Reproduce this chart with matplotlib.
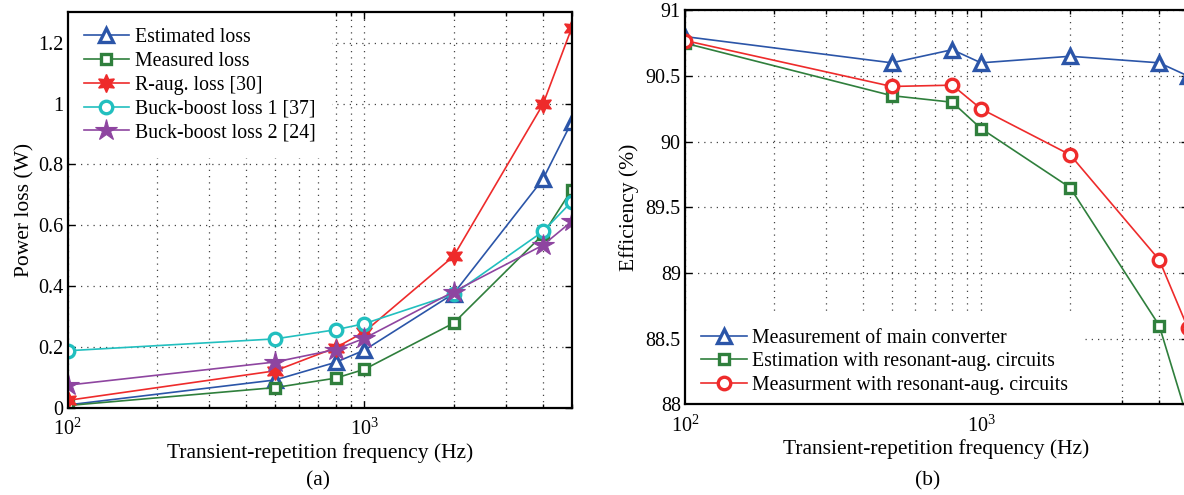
import numpy as np
import matplotlib
matplotlib.use("Agg")
import matplotlib.pyplot as plt
from matplotlib.ticker import FixedLocator, FuncFormatter, LogLocator, NullFormatter

plt.rcParams['font.family'] = ['Liberation Serif', 'DejaVu Serif']
plt.rcParams['mathtext.fontset'] = 'custom'
plt.rcParams['mathtext.rm'] = 'Liberation Serif'
plt.rcParams['mathtext.it'] = 'Liberation Serif:italic'

# ---- data, panel (a) ----
freq = [100, 500, 800, 1000, 2000, 4000, 5000]  # Hz
est_loss = [0.01, 0.092, 0.15, 0.19, 0.376, 0.752, 0.94]
meas_loss = [0.008, 0.067, 0.098, 0.127, 0.279, 0.57, 0.717]
raug_loss = [0.025, 0.122, 0.198, 0.25, 0.499, 0.998, 1.249]
bb1_loss = [0.188, 0.227, 0.257, 0.277, 0.374, 0.58, 0.678]
bb2_loss = [0.075, 0.151, 0.192, 0.229, 0.382, 0.535, 0.613]

# ---- data, panel (b) ----
eff_main = [90.8, 90.6, 90.7, 90.6, 90.65, 90.6, 90.5]
eff_est = [90.75, 90.35, 90.3, 90.1, 89.65, 88.6, 87.88]
eff_meas = [90.77, 90.42, 90.43, 90.25, 89.9, 89.1, 88.58]

blue = '#2b55a8'
green = '#2f7f3c'
red = '#ee2b2b'
cyan = '#22bfbf'
purple = '#8e45a0'

fig = plt.figure(figsize=(11.84, 4.95), dpi=100)
ax1 = fig.add_axes([0.0572, 0.1758, 0.4257, 0.7994])
ax2 = fig.add_axes([0.5785, 0.1832, 0.4248, 0.7960])

lw = 1.2
mew = 2.4

ax1.plot(freq, est_loss, color=blue, lw=lw, marker='^', ms=10, mfc='white', mec=blue, mew=mew, label='Estimated loss', zorder=3)
ax1.plot(freq, meas_loss, color=green, lw=lw, marker='s', ms=7, mfc='white', mec=green, mew=mew, label='Measured loss', zorder=3)
ax1.plot(freq, raug_loss, color=red, lw=lw, marker=(6, 1, 0), ms=13, mfc=red, mec=red, mew=1.0, label='R-aug. loss [30]', zorder=3)
ax1.plot(freq, bb1_loss, color=cyan, lw=lw, marker='o', ms=9, mfc='white', mec=cyan, mew=mew, label='Buck-boost loss 1 [37]', zorder=3)
ax1.plot(freq, bb2_loss, color=purple, lw=lw, marker='*', ms=16, mfc=purple, mec=purple, mew=0.8, label='Buck-boost loss 2 [24]', zorder=3)

ax2.plot(freq, eff_main, color=blue, lw=lw, marker='^', ms=10, mfc='white', mec=blue, mew=mew, label='Measurement of main converter', zorder=3)
ax2.plot(freq, eff_est, color=green, lw=lw, marker='s', ms=7, mfc='white', mec=green, mew=mew, label='Estimation with resonant-aug. circuits', zorder=3)
ax2.plot(freq, eff_meas, color=red, lw=lw, marker='o', ms=9, mfc='white', mec=red, mew=mew, label='Measurment with resonant-aug. circuits', zorder=3)


def decade(v, pos):
    return r'$\mathrm{10^{%d}}$' % int(round(np.log10(v)))


for ax in (ax1, ax2):
    ax.set_xscale('log')
    ax.set_xlim(100, 5000)
    ax.xaxis.set_major_locator(FixedLocator([100, 1000]))
    ax.xaxis.set_minor_locator(LogLocator(base=10, subs=np.arange(2, 10)))
    ax.xaxis.set_major_formatter(FuncFormatter(decade))
    ax.xaxis.set_minor_formatter(NullFormatter())
    ax.yaxis.set_major_formatter(FuncFormatter(lambda v, p: '%g' % round(v, 3)))
    ax.tick_params(which='both', direction='in', top=True, right=True, labelsize=14.5, width=1.0)
    ax.tick_params(which='major', length=5)
    ax.tick_params(axis='x', which='major', pad=8)
    ax.tick_params(axis='y', which='major', pad=3)
    ax.tick_params(which='minor', length=3)
    ax.grid(True, which='major', axis='both', color='#444444', ls=(0, (1, 4)), lw=0.9)
    ax.grid(True, which='minor', axis='x', color='#444444', ls=(0, (1, 4)), lw=0.9)
    ax.set_axisbelow(True)
    for s in ax.spines.values():
        s.set_linewidth(1.6)
        s.set_zorder(10)
    ax.set_xlabel('Transient-repetition frequency (Hz)', fontsize=15.5, labelpad=2)

ax1.set_ylim(0, 1.3)
ax1.set_yticks([0, 0.2, 0.4, 0.6, 0.8, 1.0, 1.2])
ax1.set_ylabel('Power loss (W)', fontsize=15.5, labelpad=3)

ax2.set_ylim(88, 91)
ax2.set_yticks([88, 88.5, 89, 89.5, 90, 90.5, 91])
ax2.set_ylabel('Efficiency (%)', fontsize=15.5, labelpad=5)

leg1 = ax1.legend(loc='upper left', bbox_to_anchor=(0, 1.0), borderaxespad=0, fontsize=14.3,
                  frameon=True, fancybox=False, edgecolor='none', facecolor='white', framealpha=1,
                  handlelength=2.3, handletextpad=0.3, labelspacing=0.24, borderpad=0.8)
leg2 = ax2.legend(loc='lower left', bbox_to_anchor=(0, -0.016), borderaxespad=0, fontsize=14.3,
                  frameon=True, fancybox=False, edgecolor='none', facecolor='white', framealpha=1,
                  handlelength=2.3, handletextpad=0.3, labelspacing=0.22, borderpad=0.8)

fig.text(318 / 1184, 1 - 481 / 495, '(a)', fontsize=15.5, ha='center', va='center')
fig.text(928 / 1184, 1 - 481 / 495, '(b)', fontsize=15.5, ha='center', va='center')

fig.savefig('out.png', dpi=100)
